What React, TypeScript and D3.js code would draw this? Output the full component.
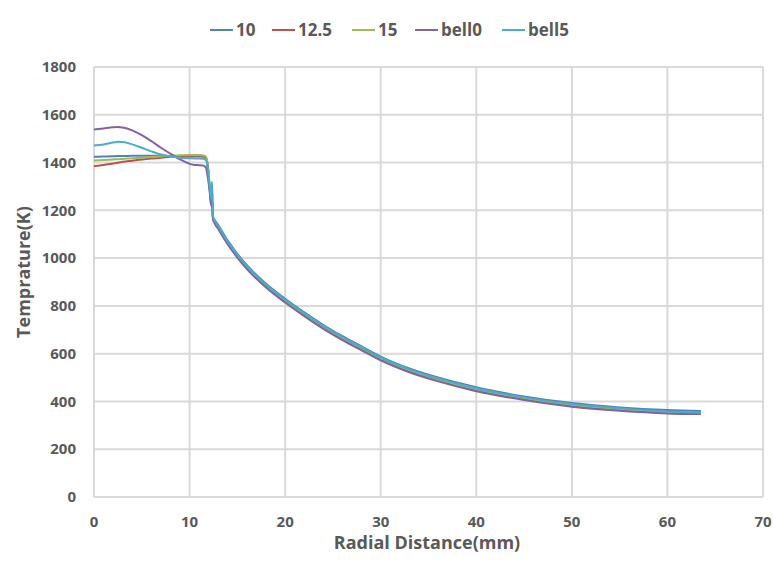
import React from "react";
import * as d3 from "d3";

// Radial positions (mm) shared by every series
const radial = [
  0, 1, 2, 2.5, 3, 4, 5, 6, 7, 8, 9, 10, 10.5, 11, 11.4,
  11.7, 11.9, 12.1, 12.25, 12.35, 12.45, 12.6,
  13, 14, 15, 16, 18, 20, 22, 24, 26, 28, 30, 33, 36, 40, 45, 50, 55, 60, 63.5,
];

// Temperature (K) for each case
const temp10 = [
  1424, 1425, 1426, 1427, 1427, 1428, 1428, 1428, 1428, 1427, 1426, 1425, 1425, 1425, 1424,
  1418, 1385, 1300, 1240, 1290, 1172, 1162,
  1138, 1073, 1018, 970, 893, 830, 773, 720, 673, 630, 588, 538, 500, 459, 421, 393, 375, 364, 360,
];
const temp12_5 = [
  1385, 1390, 1396, 1399, 1403, 1408, 1413, 1417, 1420, 1424, 1427, 1428, 1429, 1429, 1428,
  1422, 1385, 1290, 1230, 1250, 1160, 1152,
  1126, 1061, 1006, 958, 881, 818, 761, 708, 661, 618, 576, 526, 488, 447, 409, 381, 364, 352, 349,
];
const temp15 = [
  1409, 1411, 1413, 1414, 1415, 1418, 1420, 1423, 1426, 1429, 1431, 1432, 1432, 1432, 1430,
  1425, 1390, 1300, 1235, 1260, 1165, 1155,
  1130, 1065, 1010, 962, 885, 822, 765, 712, 665, 622, 580, 530, 492, 451, 413, 385, 368, 356, 352,
];
const tempBell0 = [
  1538, 1543, 1548, 1549, 1547, 1535, 1515, 1490, 1462, 1437, 1413, 1395, 1390, 1389, 1388,
  1380, 1340, 1280, 1220, 1240, 1165, 1148,
  1122, 1057, 1002, 954, 877, 814, 757, 704, 657, 614, 572, 522, 484, 443, 406, 378, 361, 350, 347,
];
const tempBell5 = [
  1471, 1476, 1484, 1487, 1486, 1476, 1462, 1447, 1434, 1426, 1420, 1418, 1417, 1417, 1416,
  1410, 1380, 1300, 1250, 1320, 1175, 1160,
  1134, 1069, 1014, 966, 889, 826, 769, 716, 669, 626, 584, 534, 496, 455, 417, 389, 371, 358, 354,
];

const seriesNames = ["10", "12.5", "15", "bell0", "bell5"];
const seriesValues = [temp10, temp12_5, temp15, tempBell0, tempBell5];
const seriesColors = ["#4F81BD", "#C0504D", "#9BBB59", "#8064A2", "#4BACC6"];

const xTicks = [0, 10, 20, 30, 40, 50, 60, 70];
const yTicks = [0, 200, 400, 600, 800, 1000, 1200, 1400, 1600, 1800];

const W = 773;
const H = 567;
const plot = { left: 94, right: 763, top: 67, bottom: 497 };
const FONT = "'Open Sans', 'DejaVu Sans', sans-serif";
const TEXT = "#595959";
const GRID = "#D9D9D9";

export default function App() {
  const x = d3.scaleLinear().domain([0, 70]).range([plot.left, plot.right]);
  const y = d3.scaleLinear().domain([0, 1800]).range([plot.bottom, plot.top]);
  const line = d3
    .line<[number, number]>()
    .x((d) => x(d[0]))
    .y((d) => y(d[1]))
    .curve(d3.curveMonotoneX);

  const legendX = [210, 272, 352, 415, 502];

  return (
    <svg
      width={W}
      height={H}
      style={{ position: "absolute", left: 0, top: 0, background: "#fff" }}
      fontFamily={FONT}
    >
      {/* grid */}
      {yTicks.map((t) => (
        <line key={"gy" + t} x1={plot.left} x2={plot.right} y1={y(t)} y2={y(t)} stroke={GRID} strokeWidth={2} />
      ))}
      {xTicks.map((t) => (
        <line key={"gx" + t} x1={x(t)} x2={x(t)} y1={plot.top} y2={plot.bottom} stroke={GRID} strokeWidth={2} />
      ))}

      {/* tick labels */}
      {yTicks.map((t) => (
        <text key={"ty" + t} x={76} y={y(t)} dy="0.35em" textAnchor="end" fontSize={15} fontWeight={700} fill={TEXT}>
          {t}
        </text>
      ))}
      {xTicks.map((t) => (
        <text key={"tx" + t} x={x(t)} y={522} dy="0.35em" textAnchor="middle" fontSize={15} fontWeight={700} fill={TEXT}>
          {t}
        </text>
      ))}

      {/* axis titles */}
      <text x={427} y={549} textAnchor="middle" fontSize={18} fontWeight={700} fill={TEXT}>
        Radial Distance(mm)
      </text>
      <text
        transform={`translate(30,272) rotate(-90)`}
        textAnchor="middle"
        fontSize={18}
        fontWeight={700}
        fill={TEXT}
      >
        Temprature(K)
      </text>

      {/* series */}
      {seriesValues.map((vals, i) => (
        <path
          key={seriesNames[i]}
          d={line(radial.map((r, j) => [r, vals[j]] as [number, number])) || ""}
          fill="none"
          stroke={seriesColors[i]}
          strokeWidth={2}
          strokeLinejoin="round"
        />
      ))}

      {/* legend */}
      {seriesNames.map((n, i) => (
        <g key={"lg" + n} transform={`translate(${legendX[i]},30)`}>
          <line x1={0} x2={23} y1={0} y2={0} stroke={seriesColors[i]} strokeWidth={2} />
          <text x={26} y={0} dy="0.35em" fontSize={17} fontWeight={700} fill={TEXT}>
            {n}
          </text>
        </g>
      ))}
    </svg>
  );
}
